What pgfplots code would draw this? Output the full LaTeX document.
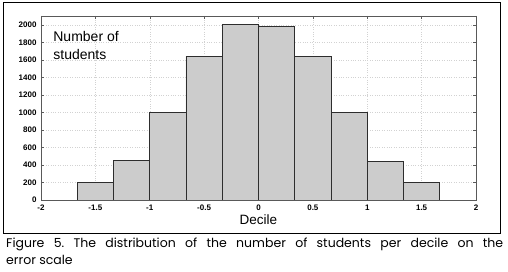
\documentclass[border=0pt]{standalone}
\usepackage{fontspec}
\setmainfont{Liberation Sans}
\newfontfamily\capfont{Poppins}
\usepackage{pgfplots}
\pgfplotsset{compat=1.18}
\frenchspacing
\begin{document}
\begin{tikzpicture}[x=1pt,y=1pt]
\useasboundingbox (0,0) rectangle (508,272);
\fill[white] (0,0) rectangle (508,272);
\draw[line width=1pt] (3,38) rectangle (500,269);
\begin{axis}[
  at={(41pt,72pt)}, anchor=south west,
  scale only axis, width=435pt, height=184pt,
  xmin=-2, xmax=2, ymin=0, ymax=2100,
  xtick={-2,-1.5,-1,-0.5,0,0.5,1,1.5,2},
  xticklabels={-2,-1.5,-1,-0.5,0,0.5,1,1.5,2},
  ytick={0,200,400,600,800,1000,1200,1400,1600,1800,2000},
  yticklabels={0,200,400,600,800,1000,1200,1400,1600,1800,2000},
  tick align=inside,
  major tick length=3pt,
  tick style={gray!70!black, line width=0.5pt},
  axis line style={gray!70!black, line width=0.6pt},
  grid=major,
  major grid style={dotted, gray!35, line width=0.5pt},
  tick label style={font=\fontsize{8}{9}\selectfont\bfseries},
  xticklabel style={yshift=-1pt},
  yticklabel style={xshift=-1pt},
  xlabel={Decile},
  xlabel style={font=\fontsize{13.5}{14}\selectfont, yshift=2pt},
]
\addplot[ybar interval, fill=gray!40, draw=gray!35!black, line width=0.6pt] coordinates {
  (-1.6667,200) (-1.3333,450) (-1,1000) (-0.6667,1640) (-0.3333,2000)
  (0,1985) (0.3333,1640) (0.6667,1000) (1,445) (1.3333,205) (1.6667,0)
};
\node[anchor=north west, align=left, font=\fontsize{14}{18}\selectfont, inner sep=0pt]
  at (rel axis cs:0.028,0.92) {Number of\\students};
\end{axis}
\node[anchor=base west, inner sep=0pt, font=\capfont\fontsize{12.5}{16}\selectfont] at (6,24)
  {\makebox[497pt][s]{Figure 5. The distribution of the number of students per decile on the}};
\node[anchor=base west, inner sep=0pt, font=\capfont\fontsize{12.5}{16}\selectfont] at (6,7)
  {error scale};
\end{tikzpicture}
\end{document}
